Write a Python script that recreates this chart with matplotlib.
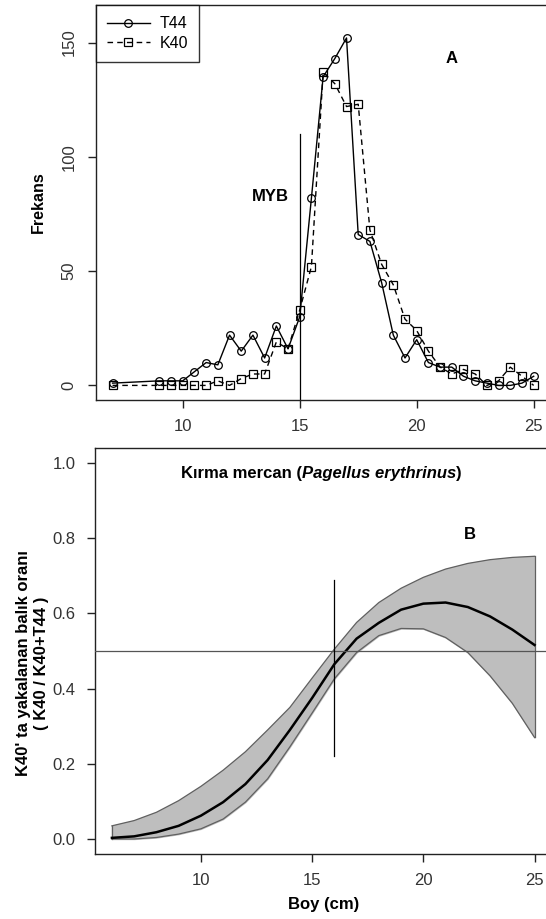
import matplotlib.pyplot as plt
import numpy as np

plt.rcParams['font.family'] = ['Liberation Sans', 'DejaVu Sans']

# Boy frekans dağılımı (0.5 cm sınıflar)
boy = [7, 9, 9.5, 10, 10.5, 11, 11.5, 12, 12.5, 13, 13.5, 14, 14.5, 15, 15.5,
       16, 16.5, 17, 17.5, 18, 18.5, 19, 19.5, 20, 20.5, 21, 21.5, 22, 22.5,
       23, 23.5, 24, 24.5, 25]
t44 = [1, 2, 2, 2, 6, 10, 9, 22, 15, 22, 12, 26, 16, 30, 82,
       135, 143, 152, 66, 63, 45, 22, 12, 20, 10, 8, 8, 4, 2,
       1, 0, 0, 1, 4]
k40 = [0, 0, 0, 0, 0, 0, 2, 0, 3, 5, 5, 19, 16, 33, 52,
       137, 132, 122, 123, 68, 53, 44, 29, 24, 15, 8, 5, 7, 5,
       0, 2, 8, 4, 0]
myb = 15
myb_ust = 110

# Seçicilik eğrisi ve güven bandı
boy_b = np.arange(6, 26)
oran = [0.003, 0.007, 0.018, 0.035, 0.062, 0.098, 0.146, 0.21, 0.29, 0.375,
        0.465, 0.533, 0.575, 0.61, 0.626, 0.629, 0.617, 0.592, 0.557, 0.516]
ust = [0.035, 0.049, 0.071, 0.102, 0.14, 0.183, 0.232, 0.29, 0.35, 0.428,
       0.505, 0.576, 0.629, 0.667, 0.696, 0.718, 0.733, 0.743, 0.749, 0.752]
alt = [0.0, 0.0, 0.004, 0.013, 0.027, 0.053, 0.098, 0.16, 0.245, 0.335,
       0.426, 0.496, 0.541, 0.56, 0.559, 0.536, 0.496, 0.434, 0.361, 0.27]
l50 = 16
l50_alt, l50_ust = 0.22, 0.69

fig = plt.figure(figsize=(5.46, 9.19), dpi=100)

# ---- A: frekans ----
ax1 = fig.add_axes([0.1753, 0.5647, 0.833, 0.4298])
ax1.plot(boy, t44, '-', color='black', lw=1, marker='o', ms=5.5,
         mfc='none', mew=0.9, label='T44')
ax1.plot(boy, k40, color='black', lw=1, ls=(0, (4, 3)), marker='s', ms=5.5,
         mfc='none', mew=0.9, label='K40')
ax1.plot([myb, myb], [-10, myb_ust], color='black', lw=0.9)
ax1.text(13.74, 82.6, 'MYB', fontsize=12, fontweight='bold', ha='center', va='center')
ax1.text(21.5, 143, 'A', fontsize=12, fontweight='bold', ha='center', va='center')
ax1.set_xlim(6.28, 25.72)
ax1.set_ylim(-6.4, 166.4)
ax1.set_xticks([10, 15, 20, 25])
ax1.set_yticks([0, 50, 100, 150])
ax1.tick_params(axis='y', labelrotation=90)
for lab in ax1.get_yticklabels():
    lab.set_va('center')
ax1.set_ylabel('Frekans', fontsize=11.5, fontweight='bold', labelpad=11)
leg = ax1.legend(loc='upper left', frameon=True, fancybox=False, borderaxespad=0,
                 handlelength=2.7, handletextpad=0.6, fontsize=11.5,
                 borderpad=0.7, labelspacing=0.3)
leg.get_frame().set_edgecolor('black')
leg.get_frame().set_linewidth(1)

# ---- B: seçicilik ----
ax2 = fig.add_axes([0.174, 0.0707, 0.836, 0.4418])
ax2.fill_between(boy_b, alt, ust, color='#bebebe', zorder=1)
ax2.plot(boy_b, ust, color='#606060', lw=0.9, zorder=2)
ax2.plot(boy_b, alt, color='#606060', lw=0.9, zorder=2)
ax2.plot([boy_b[0], boy_b[0]], [alt[0], ust[0]], color='#606060', lw=0.9, zorder=2)
ax2.plot([boy_b[-1], boy_b[-1]], [alt[-1], ust[-1]], color='#606060', lw=0.9, zorder=2)
ax2.plot(boy_b, oran, color='black', lw=1.8, zorder=3)
ax2.axhline(0.5, color='#555555', lw=0.9, zorder=4)
ax2.plot([l50, l50], [l50_alt, l50_ust], color='black', lw=0.9, zorder=4)

t1 = ax2.text(9.11, 0.973, 'Kırma mercan (', fontsize=12, fontweight='bold',
              ha='left', va='center')
t2 = ax2.annotate('Pagellus erythrinus', xy=(1, 0), xycoords=t1, va='bottom',
                  ha='left', fontsize=12, fontweight='bold', style='italic')
ax2.annotate(')', xy=(1, 0), xycoords=t2, va='bottom', ha='left',
             fontsize=12, fontweight='bold')
ax2.text(22.08, 0.81, 'B', fontsize=12, fontweight='bold', ha='center', va='center')

ax2.set_xlim(5.24, 25.76)
ax2.set_ylim(-0.04, 1.04)
ax2.set_xticks([10, 15, 20, 25])
ax2.set_yticks([0, 0.2, 0.4, 0.6, 0.8, 1.0])
ax2.set_yticklabels(['0.0', '0.2', '0.4', '0.6', '0.8', '1.0'])
ax2.set_xlabel('Boy (cm)', fontsize=12, fontweight='bold', labelpad=6)
ax2.set_ylabel("K40' ta yakalanan balık oranı\n( K40 / K40+T44 )", fontsize=12,
               fontweight='bold', linespacing=1.3)
ax2.yaxis.set_label_coords(-0.1, 0.47)

for ax in (ax1, ax2):
    for s in ax.spines.values():
        s.set_linewidth(1)
        s.set_color('#222222')
    ax.tick_params(direction='out', length=6, width=1, colors='#222222',
                   labelcolor='#333333', labelsize=12, pad=8)

fig.savefig('out.png', dpi=100)
